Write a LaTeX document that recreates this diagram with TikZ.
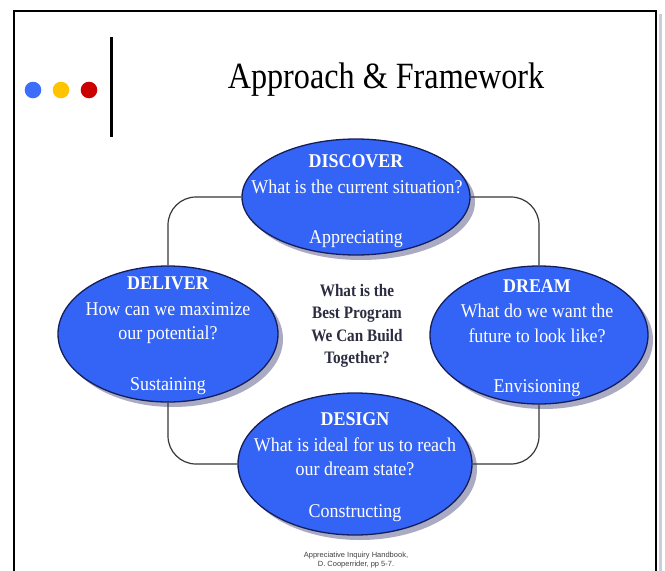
\documentclass[tikz,border=0pt]{standalone}
\usepackage{fontspec}
\setmainfont[FakeStretch=0.87]{Liberation Serif}
\newfontfamily\elfont[FakeStretch=0.92]{Liberation Serif}
\newfontfamily\notefont{Liberation Sans}
\usetikzlibrary{shapes.geometric,shadows}
\definecolor{ellblue}{RGB}{52,100,245}
\definecolor{ellline}{RGB}{20,30,90}
\definecolor{shadowgray}{RGB}{170,170,195}
\definecolor{dotblue}{RGB}{60,110,250}
\definecolor{dotyellow}{RGB}{255,195,0}
\definecolor{dotred}{RGB}{205,0,0}
\definecolor{qtext}{RGB}{45,45,65}
\definecolor{connline}{RGB}{55,55,55}
\tikzset{
  phase/.style={ellipse, draw=ellline, line width=1.3pt, fill=ellblue, inner sep=0pt,
    drop shadow={shadow xshift=5pt, shadow yshift=-5pt, fill=shadowgray, opacity=1}},
  hd/.style={anchor=base, inner sep=0pt, text=white, font=\elfont\fontsize{19.5}{22}\selectfont\bfseries},
  tx/.style={anchor=base, inner sep=0pt, text=white, font=\elfont\fontsize{19.5}{22}\selectfont},
  qt/.style={anchor=base, inner sep=0pt, text=qtext, font=\fontsize{17.5}{20}\selectfont\bfseries},
  conn/.style={draw=connline, line width=1.2pt, rounded corners=28pt},
  note/.style={anchor=base, inner sep=0pt, text=black!75, font=\notefont\fontsize{7.5}{9}\selectfont}
}
\begin{document}
\begin{tikzpicture}[x=1pt,y=-1pt]
\useasboundingbox (0,0) rectangle (665,571);
\fill[white] (0,0) rectangle (665,571);
% frame
\draw[line width=3pt, shadowgray!60] (660,14) -- (660,571);
\draw[line width=2.4pt] (14,571) -- (14,11) -- (656,11) -- (656,571);
% dots and bar
\fill[dotblue] (33,90) circle (8.3pt);
\fill[dotyellow] (61,90) circle (8.3pt);
\fill[dotred] (89,90) circle (8.3pt);
\draw[line width=2.5pt] (111.5,37) -- (111.5,137);
% title
\node[anchor=base, inner sep=0pt, font=\fontsize{37}{40}\selectfont] (title) at (386,88) {Approach \& Framework};
% ellipses
\node[phase, minimum width=228pt, minimum height=116pt] (disc) at (356,197) {};
\node[phase, minimum width=220pt, minimum height=136pt] (deliv) at (168,334) {};
\node[phase, minimum width=218pt, minimum height=138pt] (dream) at (539,335) {};
\node[phase, minimum width=234pt, minimum height=142pt] (design) at (355,464) {};
% connectors
\draw[conn] (disc.west) -| (deliv.north);
\draw[conn] (disc.east) -| (dream.north);
\draw[conn] (deliv.south) |- (design.west);
\draw[conn] (dream.south) |- (design.east);
% DISCOVER
\node[hd] (d1) at (356,167) {DISCOVER};
\node[tx] (d2) at (357,193) {What is the current situation?};
\node[tx] (d3) at (356,243) {Appreciating};
% DELIVER
\node[hd] (l1) at (168,289) {DELIVER};
\node[tx] (l2) at (168,315) {How can we maximize};
\node[tx] (l3) at (168,339) {our potential?};
\node[tx] (l4) at (168,390) {Sustaining};
% DREAM
\node[hd] (r1) at (537,292) {DREAM};
\node[tx] (r2) at (537,317) {What do we want the};
\node[tx] (r3) at (537,342) {future to look like?};
\node[tx] (r4) at (537,392) {Envisioning};
% DESIGN
\node[hd] (s1) at (355,425) {DESIGN};
\node[tx] (s2) at (355,451) {What is ideal for us to reach};
\node[tx] (s3) at (355,475) {our dream state?};
\node[tx] (s4) at (355,517) {Constructing};
% center question
\node[qt] (q1) at (357,296) {What is the};
\node[qt] (q2) at (357,318) {Best Program};
\node[qt] (q3) at (357,341) {We Can Build};
\node[qt] (q4) at (357,363) {Together?};
% footnote
\node[note] (n1) at (356,557) {Appreciative Inquiry Handbook,};
\node[note] (n2) at (356,566) {D. Cooperrider, pp 5-7.};
\end{tikzpicture}
\end{document}
